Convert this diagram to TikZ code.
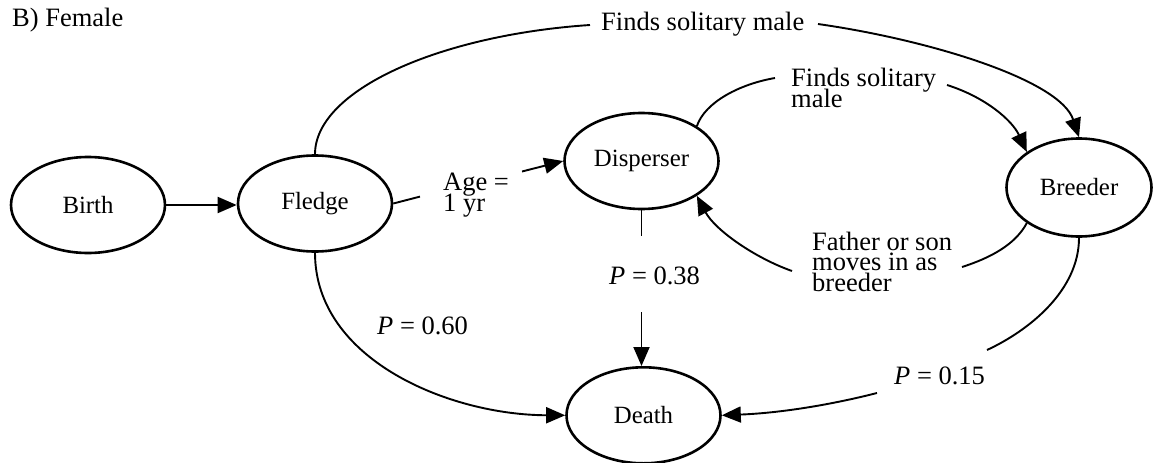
\documentclass[tikz,border=0pt]{standalone}
\usepackage{fontspec}
\setmainfont{Liberation Serif}
\usetikzlibrary{arrows.meta,shapes.geometric}
\newcommand\stacklines[1]{\vtop{\baselineskip=20.5pt\lineskiplimit=-50pt\lineskip=0pt #1}}
\begin{document}
\begin{tikzpicture}[x=1pt,y=-1pt,
  state/.style={draw, ellipse, line width=2.6pt, minimum width=154pt, minimum height=96pt, inner sep=0pt, font={\fontsize{24.8}{26}\selectfont}},
  conn/.style={line width=1.9pt},
  arr/.style={conn, -{Triangle[length=19pt,width=16pt]}},
  lbl/.style={inner sep=0pt, anchor=base west, font={\fontsize{26.5}{20.5}\selectfont}}]
\useasboundingbox (0,0) rectangle (1154,463);

% states
\node[state] (Birth) at (88,205) {Birth};
\node[state] (Fledge) at (315,203.5) {Fledge};
\node[state] (Disperser) at (641.5,161) {Disperser};
\node[state, minimum width=145pt, minimum height=98pt] (Breeder) at (1079,187.5) {Breeder};
\node[state] (Death) at (643.5,415.3) {Death};

% title
\node[lbl] (title) at (12,26.7) {B) Female};

% labels
\node[lbl] (lTop) at (601,30) {Finds solitary male};
\node[lbl] (lDisp) at (791,86.7) {\stacklines{\hbox{Finds solitary}\hbox{male}}};
\node[lbl] (lFath) at (812,250) {\stacklines{\hbox{Father or son}\hbox{moves in as}\hbox{breeder}}};
\node[lbl] (lAge) at (443,190.7) {\stacklines{\hbox{Age =}\hbox{1 yr}}};
\node[lbl] (l38) at (609,284) {\textit{P} = 0.38};
\node[lbl] (l60) at (377,334) {\textit{P} = 0.60};
\node[lbl] (l15) at (894,384) {\textit{P} = 0.15};

% gap coordinates
\coordinate (ageA) at (420,196.6);
\coordinate (ageB) at (522,171.5);
\coordinate (topA) at (590,25);
\coordinate (topB) at (818,24);
\coordinate (dispA) at (775,78);
\coordinate (dispB) at (947,85);
\coordinate (fathA) at (962,267);
\coordinate (fathB) at (792,271);
\coordinate (p38A) at (641.5,236);
\coordinate (p38B) at (641.5,312);
\coordinate (p15A) at (987,350);
\coordinate (p15B) at (877,393);

% connectors
\draw[arr] (Birth.east) -- (Birth.east -| Fledge.west);

\draw[conn] (Fledge.east) -- (ageA);
\draw[arr] (ageB) -- (Disperser.west);

\draw[conn] (Fledge.north) .. controls (315,90) and (440,35) .. (topA);
\draw[arr] (topB) .. controls (930,40) and (1060,80) .. (Breeder.north);

\draw[conn] (Disperser.north east) .. controls (705,102) and (740,84) .. (dispA);
\draw[arr] (dispB) .. controls (985,97) and (1012,120) .. (Breeder.north west);

\draw[conn] (Breeder.south west) .. controls (1015,245) and (990,258) .. (fathA);
\draw[arr] (fathB) .. controls (755,258) and (715,230) .. (Disperser.south east);

\draw[conn] (Disperser.south) -- (p38A);
\draw[arr] (p38B) -- (p38B |- Death.north);

\draw[arr] (Fledge.south) .. controls (315,360) and (450,415) .. (Death.west);

\draw[conn] (Breeder.south) .. controls (1079,290) and (1030,330) .. (p15A);
\draw[arr] (p15B) .. controls (830,405) and (780,413) .. (Death.east);
\end{tikzpicture}
\end{document}
